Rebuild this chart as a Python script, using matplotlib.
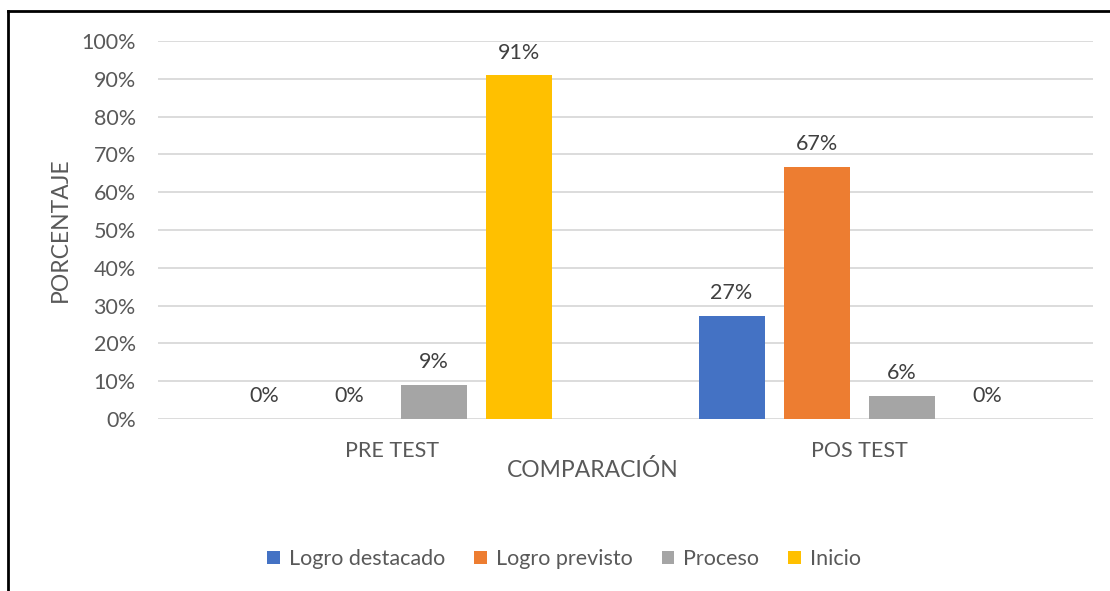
import matplotlib
matplotlib.use("Agg")
import matplotlib.pyplot as plt
from matplotlib.lines import Line2D
import numpy as np

plt.rcParams['font.family'] = ['Lato', 'DejaVu Sans']

categories = ["PRE TEST", "POS TEST"]
series = ["Logro destacado", "Logro previsto", "Proceso", "Inicio"]
logro_destacado = [0.0, 27.27]
logro_previsto = [0.0, 66.67]
proceso = [9.09, 6.06]
inicio = [90.91, 0.0]
colors = ["#4472c4", "#ed7d31", "#a5a5a5", "#ffc000"]
yticks = np.arange(0, 101, 10)

W, H = 1110, 591
fig = plt.figure(figsize=(W / 100, H / 100), dpi=100)
ax = fig.add_axes([158 / W, 1 - 419 / H, (1093 - 158) / W, (419 - 41) / H])

x = np.arange(len(categories))
width = 0.141
step = 0.182
values = [logro_destacado, logro_previsto, proceso, inicio]
for i, (name, vals) in enumerate(zip(series, values)):
    pos = x + (i - 1.5) * step
    bars = ax.bar(pos, vals, width, color=colors[i], label=name, zorder=3)
    for b, v in zip(bars, vals):
        ax.annotate(f"{v:.0f}%", (b.get_x() + b.get_width() / 2, v),
                    xytext=(0, 12), textcoords="offset points",
                    ha="center", va="baseline", fontsize=15.5, color="#404040")

ax.set_xlim(-0.5, 1.5)
ax.set_ylim(0, 100)
ax.set_yticks(yticks)
ax.set_yticklabels([f"{t}%" for t in yticks])
ax.set_xticks(x)
ax.set_xticklabels(categories)
ax.grid(axis="y", color="#d9d9d9", linewidth=1.3, zorder=0)
ax.set_axisbelow(True)
for s in ax.spines.values():
    s.set_visible(False)
ax.tick_params(axis="both", length=0, labelsize=15.5, labelcolor="#595959")
ax.tick_params(axis="y", pad=16)
ax.tick_params(axis="x", pad=16)

fig.text(60 / W, 1 - 230 / H, "PORCENTAJE", rotation=90, ha="center", va="center",
         fontsize=16.5, color="#595959")
fig.text(593 / W, 1 - 470 / H, "COMPARACIÓN", ha="center", va="center",
         fontsize=16.5, color="#595959")

leg = fig.legend(loc="center", bbox_to_anchor=(564 / W, 1 - 559 / H), ncol=4,
                 frameon=False, fontsize=15.5, labelcolor="#595959",
                 handlelength=0.6, handleheight=0.6, handletextpad=0.4,
                 columnspacing=1.35)

# chart border (only left and top edges fall inside the picture)
fig.add_artist(Line2D([8 / W, 8 / W], [0, 1 - 11 / H], color="black", linewidth=2,
                      transform=fig.transFigure))
fig.add_artist(Line2D([8 / W, 1], [1 - 11 / H, 1 - 11 / H], color="black", linewidth=2,
                      transform=fig.transFigure))

fig.savefig("out.png", dpi=100)
